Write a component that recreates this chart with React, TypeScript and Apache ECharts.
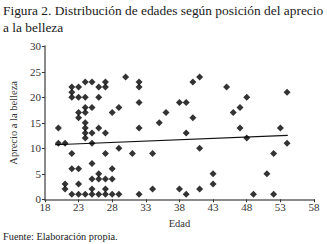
import React, { useEffect, useRef } from "react";
import * as echarts from "echarts";

const titleLines = [
  "Figura 2. Distribución de edades según posición del aprecio",
  "a la belleza",
];
const xAxisName = "Edad";
const yAxisName = "Aprecio a la belleza";
const sourceNote = "Fuente: Elaboración propia.";

const xMin = 18;
const xMax = 58;
const xStep = 5;
const yMin = 0;
const yMax = 30;
const yStep = 5;

const ages = [
  20, 20,
  21, 21, 21,
  22, 22, 22, 22, 22, 22,
  23, 23, 23, 23, 23, 23, 23,
  24, 24, 24, 24, 24, 24, 24, 24, 24,
  25, 25, 25, 25, 25, 25, 25, 25,
  26, 26, 26, 26, 26, 26,
  27, 27, 27, 27, 27, 27, 27,
  28, 28, 28, 28,
  29, 29, 29,
  30,
  31,
  32, 32, 32, 32, 32,
  34, 34,
  35,
  36,
  38, 38,
  39, 39, 39,
  40, 40,
  41, 41, 41,
  43, 43,
  45,
  46,
  47, 47,
  48, 48,
  49,
  51,
  52, 52,
  53,
  54, 54,
];
const aprecio = [
  14, 11,
  11, 3, 2,
  22, 21, 20, 9, 6, 1,
  22, 20, 17, 16, 6, 3, 1,
  23, 20, 18, 17, 15, 14, 13, 12, 1,
  23, 18, 13, 11, 7, 4, 2, 1,
  22, 20, 14, 5, 4, 1,
  23, 22, 13, 9, 4, 2, 1,
  17, 6, 4, 1,
  18, 10, 1,
  24,
  9,
  23, 22, 19, 14, 1,
  9, 2,
  15,
  17,
  19, 2,
  19, 13, 1,
  23, 16,
  24, 10, 2,
  5, 3,
  22,
  17,
  18, 14,
  20, 12,
  1,
  5,
  9, 1,
  14,
  21, 11,
];
const trendAges = [19.5, 54.1];
const trendValues = [10.7, 12.55];

const FONT = "'Liberation Serif', 'DejaVu Serif', serif";

export default function App() {
  const ref = useRef<HTMLDivElement>(null);
  useEffect(() => {
    if (!ref.current) return;
    const chart = echarts.init(ref.current, null, { renderer: "svg" });
    const points = ages.map((a, i) => [a, aprecio[i]]);
    const trend = trendAges.map((a, i) => [a, trendValues[i]]);
    chart.setOption({
      animation: false,
      backgroundColor: "#ffffff",
      title: {
        text: titleLines.join("\n"),
        left: 3,
        top: 2,
        padding: 0,
        textStyle: {
          fontFamily: FONT,
          fontSize: 13.4,
          fontWeight: "normal",
          color: "#1a1a1a",
          lineHeight: 17,
        },
      },
      grid: { left: 33, right: 13, top: 46.3, bottom: 44.7, containLabel: false },
      xAxis: {
        type: "value",
        min: xMin,
        max: xMax,
        interval: xStep,
        name: xAxisName,
        nameLocation: "middle",
        nameGap: 19,
        nameTextStyle: { fontFamily: FONT, fontSize: 10.5, color: "#333" },
        axisLine: { show: true, lineStyle: { color: "#8a8a8a", width: 2 } },
        axisTick: { show: true, length: 3, lineStyle: { color: "#333", width: 1 } },
        axisLabel: { fontFamily: FONT, fontSize: 11, color: "#333", margin: 2 },
        splitLine: { show: false },
      },
      yAxis: {
        type: "value",
        min: yMin,
        max: yMax,
        interval: yStep,
        name: yAxisName,
        nameLocation: "middle",
        nameGap: 19,
        nameTextStyle: { fontFamily: FONT, fontSize: 10.5, color: "#333" },
        axisLine: { show: true, lineStyle: { color: "#8a8a8a", width: 2 } },
        axisTick: { show: true, length: 3, lineStyle: { color: "#333", width: 1 } },
        axisLabel: { fontFamily: FONT, fontSize: 11, color: "#333", margin: 4 },
        splitLine: { show: false },
      },
      graphic: [
        {
          type: "text",
          left: 3,
          top: 231,
          style: {
            text: sourceNote,
            fontFamily: FONT,
            fontSize: 10.3,
            fill: "#1a1a1a",
          },
        },
      ],
      series: [
        {
          type: "line",
          data: trend,
          symbol: "none",
          lineStyle: { color: "#111", width: 1.2 },
          z: 1,
        },
        {
          type: "scatter",
          data: points,
          symbol: "diamond",
          symbolSize: 7,
          itemStyle: { color: "#000" },
          z: 2,
        },
      ],
    });
    return () => chart.dispose();
  }, []);
  return (
    <div
      ref={ref}
      style={{ position: "fixed", left: 0, top: 0, width: 327, height: 244 }}
    />
  );
}
